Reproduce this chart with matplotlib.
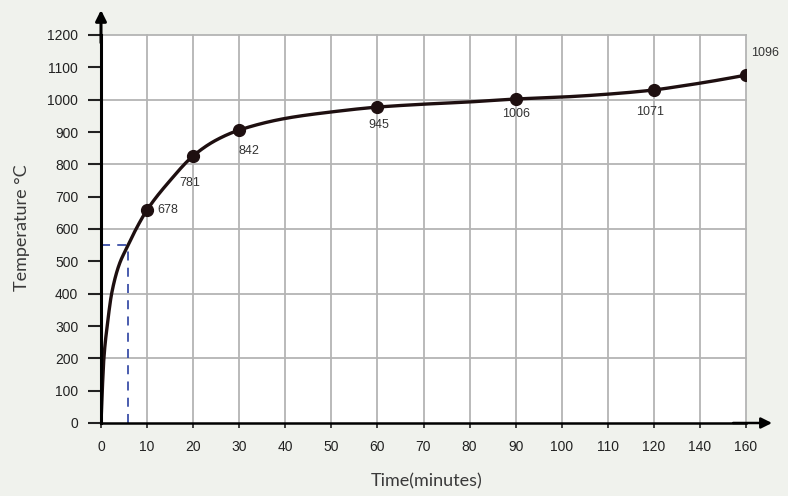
import numpy as np
import matplotlib
matplotlib.use("Agg")
import matplotlib.pyplot as plt

# ---- data ----
x_ticks = [0, 10, 20, 30, 40, 50, 60, 70, 80, 90, 100, 110, 120, 140, 160]
y_ticks = [0, 100, 200, 300, 400, 500, 600, 700, 800, 900, 1000, 1100, 1200]

curve_time = [0, 0.28, 0.65, 1.37, 2.32, 4.0, 5.9, 7.5, 10, 15, 20, 25, 30, 40, 50,
              60, 70, 80, 90, 100, 110, 120, 130, 140, 150, 160]
curve_temp = [0, 102, 205, 303, 401, 492, 550, 597, 659, 750, 826, 875, 906, 942, 962,
              977, 986, 993, 1002, 1008, 1017, 1030, 1040, 1051, 1063, 1076]

point_time = [10, 20, 30, 60, 90, 120, 160]
point_temp = [659, 826, 906, 977, 1002, 1030, 1076]
point_labels = ["678", "781", "842", "945", "1006", "1071", "1096"]

ref_time = 5.9
ref_temp = 550

# ---- helpers ----
tick_idx = np.arange(len(x_ticks))
def to_idx(t):
    return np.interp(t, x_ticks, tick_idx)

def pchip(x, y, xs):
    x = np.asarray(x, float); y = np.asarray(y, float)
    h = np.diff(x); d = np.diff(y) / h
    n = len(x); m = np.zeros(n)
    for k in range(1, n - 1):
        if d[k - 1] * d[k] > 0:
            w1 = 2 * h[k] + h[k - 1]; w2 = h[k] + 2 * h[k - 1]
            m[k] = (w1 + w2) / (w1 / d[k - 1] + w2 / d[k])
    m[0] = d[0]; m[-1] = d[-1]
    out = np.empty_like(xs)
    for i, xv in enumerate(xs):
        k = min(max(np.searchsorted(x, xv) - 1, 0), n - 2)
        t = (xv - x[k]) / h[k]
        h00 = 2*t**3 - 3*t**2 + 1; h10 = t**3 - 2*t**2 + t
        h01 = -2*t**3 + 3*t**2; h11 = t**3 - t**2
        out[i] = h00*y[k] + h10*h[k]*m[k] + h01*y[k+1] + h11*h[k]*m[k+1]
    return out

# ---- figure ----
W, H = 788, 496
fig = plt.figure(figsize=(W/100, H/100), dpi=100, facecolor="#f0f2ed")
ax = fig.add_axes([101/W, 1 - 423/H, (746-101)/W, (423-35)/H])
ax.set_facecolor("white")
ax.set_xlim(0, len(x_ticks) - 1)
ax.set_ylim(0, 1200)

tick_font = "Liberation Sans"
ax.set_xticks(tick_idx)
ax.set_xticklabels([str(v) for v in x_ticks], fontsize=10, family=tick_font, color="#222")
ax.set_yticks(y_ticks)
ax.set_yticklabels([str(v) for v in y_ticks], fontsize=10, family=tick_font, color="#222")
ax.tick_params(axis="y", length=9.4, width=1.5, pad=7, color="#222")
ax.tick_params(axis="x", length=3.6, width=1.2, pad=8.5, color="#222")

# grid
for xi in tick_idx[1:]:
    ax.axvline(xi, color="#b4b4b4", lw=1.3, zorder=0.5, clip_on=False)
for yv in y_ticks[2::2]:
    ax.axhline(yv, color="#b4b4b4", lw=1.3, zorder=0.5, clip_on=False)

for s in ["top", "right"]:
    ax.spines[s].set_visible(False)
ax.spines["left"].set_linewidth(2.2)
ax.spines["bottom"].set_linewidth(1.8)
ax.spines["left"].set_zorder(5)
ax.spines["bottom"].set_zorder(5)

# axis arrows
ax.annotate("", xy=(0, 1 + 25/388), xytext=(0, 0.98), xycoords="axes fraction",
            arrowprops=dict(arrowstyle="-|>", lw=2.2, color="black",
                            mutation_scale=16, shrinkA=0, shrinkB=0), annotation_clip=False)
ax.annotate("", xy=(1 + 26/645, 0), xytext=(0.98, 0), xycoords="axes fraction",
            arrowprops=dict(arrowstyle="-|>", lw=1.8, color="black",
                            mutation_scale=16, shrinkA=0, shrinkB=0), annotation_clip=False)

# reference dashed lines
rx = to_idx(ref_time)
ax.plot([0, rx], [ref_temp, ref_temp], ls=(0, (5, 4)), color="#3b4fa8", lw=1.3, zorder=2)
ax.plot([rx, rx], [0, ref_temp], ls=(0, (5, 4)), color="#3b4fa8", lw=1.3, zorder=2)

# curve
cx = to_idx(curve_time)
xs = np.linspace(0, cx[-1], 1200)
ys = pchip(cx, curve_temp, xs)
ax.plot(xs, ys, color="#1e0f10", lw=2.4, zorder=3, solid_capstyle="round")

px = to_idx(point_time)
ax.plot(px, point_temp, "o", color="#1e0f10", ms=8.5, zorder=4)

offsets = [(10, 0), (-3, -27), (10, -21), (1, -18), (0, -15), (-4, -22), (19, 22)]
has = ["left", "center", "center", "center", "center", "center", "center"]
for x, y, lab, off, ha in zip(px, point_temp, point_labels, offsets, has):
    ax.annotate(lab, (x, y), xytext=off, textcoords="offset pixels", ha=ha, va="center",
                fontsize=9, family=tick_font, color="#333", zorder=6)

fig.text(22/W, 1 - 228/H, "Temperature °C", rotation=90, ha="center", va="center",
         fontsize=13, family="Lato", color="#3a3a3a")
fig.text(427/W, 1 - 481/H, "Time(minutes)", ha="center", va="center",
         fontsize=13, family="Lato", color="#3a3a3a")

fig.savefig("out.png", dpi=100, facecolor=fig.get_facecolor())
